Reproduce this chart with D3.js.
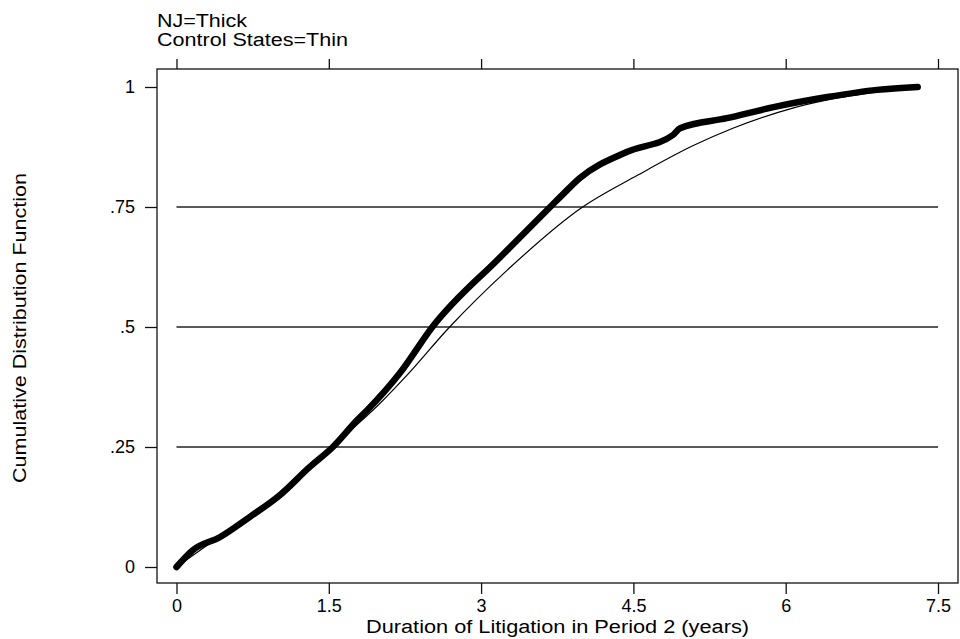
<!DOCTYPE html>
<html>
<head>
<meta charset="utf-8">
<script src="https://cdn.jsdelivr.net/npm/d3@7"></script>
<style>
  body { margin: 0; background: #fff; }
  svg { display: block; font-family: "Liberation Sans", Arial, sans-serif; }
</style>
</head>
<body>
<svg id="chart"></svg>
<script>
// values
var njYears   = [0, 0.16, 0.43, 0.72, 1.02, 1.31, 1.54, 1.78, 1.88, 2.2, 2.52, 3.19, 3.68, 3.78, 3.97, 4.44, 4.89, 4.96, 5.42, 5.88, 6.41, 6.9, 7.3];
var njCdf     = [0, 0.035, 0.0625, 0.104, 0.15, 0.208, 0.25, 0.306, 0.327, 0.404, 0.5, 0.646, 0.75, 0.771, 0.81, 0.865, 0.9, 0.914, 0.935, 0.958, 0.979, 0.994, 1.0];

var ctrlYears = [0, 0.5, 1.0, 1.5, 2.0, 2.25, 2.69, 3.26, 4.0, 4.54, 5.09, 5.48, 6.07, 6.41, 6.9, 7.25];
var ctrlCdf   = [0, 0.075, 0.15, 0.245, 0.34, 0.395, 0.5, 0.619, 0.75, 0.816, 0.878, 0.914, 0.956, 0.973, 0.99, 1.0];

var xTicks = [0, 1.5, 3, 4.5, 6, 7.5];
var yTicks = [0, 0.25, 0.5, 0.75, 1];
var yTickLabels = ["0", ".25", ".5", ".75", "1"];
var gridLevels = [0.25, 0.5, 0.75];

var svgWidth = 960, svgHeight = 639;
var frame = {left: 157, right: 958, top: 69, bottom: 583};

var svg = d3.select("#chart")
    .attr("width", svgWidth)
    .attr("height", svgHeight);

var x = d3.scaleLinear().domain([0, 7.5]).range([176.5, 938]);
var y = d3.scaleLinear().domain([0, 1]).range([567, 87]);

// plot frame
svg.append("rect")
    .attr("x", frame.left)
    .attr("y", frame.top)
    .attr("width", frame.right - frame.left)
    .attr("height", frame.bottom - frame.top)
    .attr("fill", "none")
    .attr("stroke", "#111")
    .attr("stroke-width", 1.3);

// horizontal reference lines
svg.append("g")
    .selectAll("line")
    .data(gridLevels)
    .join("line")
    .attr("x1", x(0))
    .attr("x2", x(7.5))
    .attr("y1", function(d) { return y(d); })
    .attr("y2", function(d) { return y(d); })
    .attr("stroke", "#222")
    .attr("stroke-width", 1.5);

function styleAxis(g) {
    g.select(".domain").remove();
    g.selectAll(".tick line").attr("stroke", "#111").attr("stroke-width", 1.3);
    g.selectAll(".tick text").attr("fill", "#000").attr("font-size", 18);
}

svg.append("g")
    .attr("transform", "translate(0," + frame.bottom + ")")
    .call(d3.axisBottom(x).tickValues(xTicks).tickSize(11).tickPadding(5).tickFormat(d3.format("")))
    .call(styleAxis)
    .attr("font-family", null);

svg.append("g")
    .attr("transform", "translate(0," + frame.top + ")")
    .call(d3.axisTop(x).tickValues(xTicks).tickSize(10).tickFormat(""))
    .call(styleAxis);

svg.append("g")
    .attr("transform", "translate(" + frame.left + ",0)")
    .call(d3.axisLeft(y).tickValues(yTicks).tickSize(12).tickPadding(10)
        .tickFormat(function(d, i) { return yTickLabels[i]; }))
    .call(styleAxis)
    .attr("font-family", null);

// curves
var line = d3.line()
    .x(function(d) { return x(d[0]); })
    .y(function(d) { return y(d[1]); })
    .curve(d3.curveMonotoneX);

svg.append("path")
    .datum(d3.zip(ctrlYears, ctrlCdf))
    .attr("fill", "none")
    .attr("stroke", "#000")
    .attr("stroke-width", 1.2)
    .attr("d", line);

svg.append("path")
    .datum(d3.zip(njYears, njCdf))
    .attr("fill", "none")
    .attr("stroke", "#000")
    .attr("stroke-width", 6.5)
    .attr("stroke-linejoin", "round")
    .attr("stroke-linecap", "round")
    .attr("d", line);

// titles
svg.append("text")
    .attr("x", 557.5)
    .attr("y", 633)
    .attr("text-anchor", "middle")
    .attr("font-size", 18)
    .attr("textLength", 383)
    .attr("lengthAdjust", "spacingAndGlyphs")
    .text("Duration of Litigation in Period 2 (years)");

svg.append("text")
    .attr("transform", "translate(26,328) rotate(-90)")
    .attr("text-anchor", "middle")
    .attr("font-size", 18)
    .attr("textLength", 310)
    .attr("lengthAdjust", "spacingAndGlyphs")
    .text("Cumulative Distribution Function");

svg.append("text")
    .attr("x", 157)
    .attr("y", 27)
    .attr("font-size", 18)
    .attr("textLength", 90)
    .attr("lengthAdjust", "spacingAndGlyphs")
    .text("NJ=Thick");

svg.append("text")
    .attr("x", 157)
    .attr("y", 46)
    .attr("font-size", 18)
    .attr("textLength", 191)
    .attr("lengthAdjust", "spacingAndGlyphs")
    .text("Control States=Thin");
</script>
</body>
</html>
